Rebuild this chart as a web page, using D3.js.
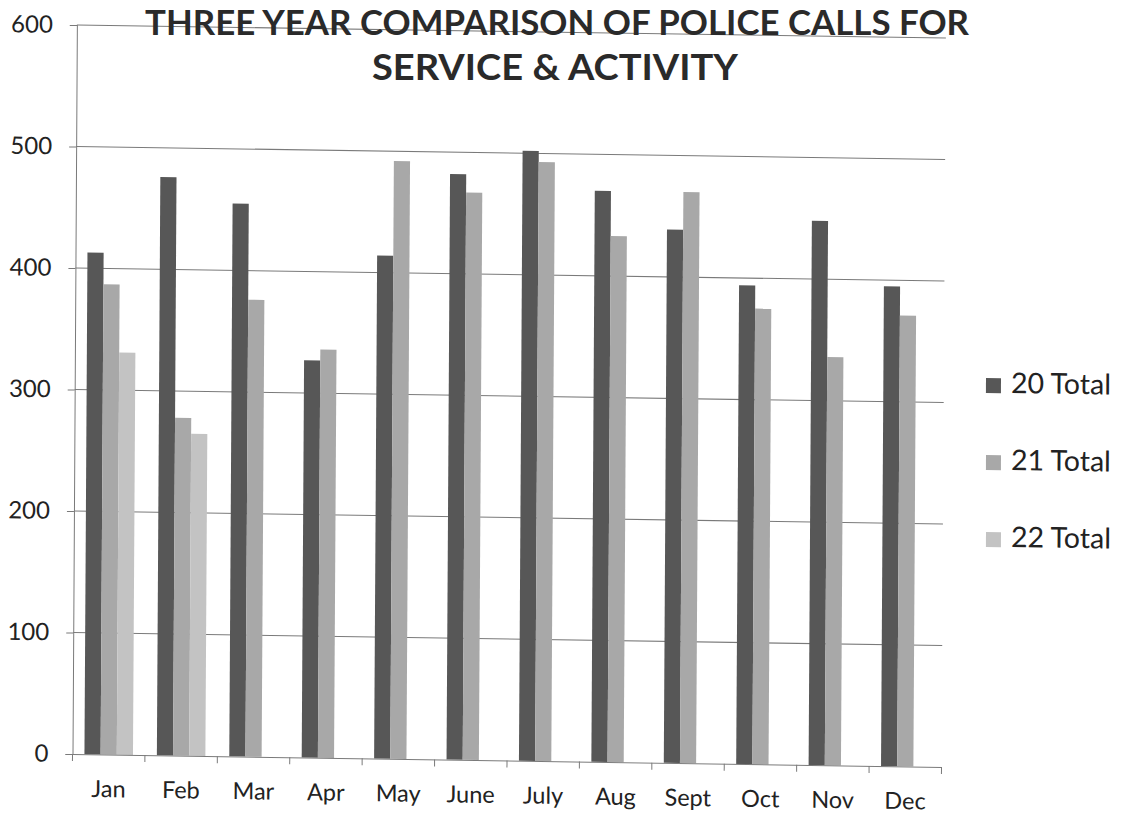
<!DOCTYPE html>
<html>
<head>
<meta charset="utf-8">
<script src="https://cdn.jsdelivr.net/npm/d3@7"></script>
<style>
  html, body { margin: 0; padding: 0; background: #fff; }
  svg { display: block; }
  text { font-family: Lato, "Open Sans", "Liberation Sans", sans-serif; }
</style>
</head>
<body>
<svg id="chart" width="1125" height="814"></svg>
<script>
// Monthly police calls for service & activity
const months  = ["Jan", "Feb", "Mar", "Apr", "May", "June", "July", "Aug", "Sept", "Oct", "Nov", "Dec"];
const series  = ["20 Total", "21 Total", "22 Total"];
const total20 = [413, 476, 455, 327, 414, 482, 502, 470, 439, 394, 448, 395];
const total21 = [387, 278, 376, 336, 492, 467, 493, 433, 470, 375, 336, 371];
const total22 = [331, 265, null, null, null, null, null, null, null, null, null, null];
const yTicks  = [0, 100, 200, 300, 400, 500, 600];
const titleLines = ["THREE YEAR COMPARISON OF POLICE CALLS FOR", "SERVICE & ACTIVITY"];

const colors = ["#575757", "#a8a8a8", "#c3c3c3"];

const svg = d3.select("#chart");
svg.append("rect").attr("width", 1125).attr("height", 814).attr("fill", "#fff");

// plot origin (bottom-left of the axes) and size
const ox = 72.5, oy = 754, W = 869, H = 729;
// the sheet sits slightly askew: rows drift down to the right, columns lean right
const kh = 0.0150, kv = -0.0060;
const det = 1 - kh * kv;
// convert a page position into the askew frame
function frame(X, Y) {
  const dx = X - ox, dy = Y - oy;
  return [ox + (dx - kv * dy) / det, oy + (dy - kh * dx) / det];
}

const root = svg.append("g")
  .attr("transform", `translate(${ox},${oy}) matrix(1,${kh},${kv},1,0,0) translate(${-ox},${-oy})`);
const g = root.append("g").attr("transform", `translate(${ox},${oy - H})`);

const y = d3.scaleLinear().domain([0, 600]).range([H, 0]);
const x0 = d3.scaleBand().domain(months).range([0, W]).paddingInner(0.33).paddingOuter(0.165);
const x1 = d3.scaleBand().domain(series).range([0, x0.bandwidth()]);

// gridlines
g.append("g").selectAll("line").data(yTicks.filter(v => v > 0)).join("line")
  .attr("x1", 0).attr("x2", W)
  .attr("y1", d => y(d)).attr("y2", d => y(d))
  .attr("stroke", "#7a7a7a").attr("stroke-width", 1.1);

// bars
const rows = months.map((m, i) => ({ month: m, vals: [total20[i], total21[i], total22[i]] }));
const grp = g.append("g").selectAll("g").data(rows).join("g")
  .attr("transform", d => `translate(${x0(d.month)},0)`);
grp.selectAll("rect")
  .data(d => d.vals.map((v, k) => ({ key: series[k], v, k })).filter(e => e.v != null))
  .join("rect")
  .attr("x", e => x1(e.key))
  .attr("width", x1.bandwidth())
  .attr("y", e => y(e.v))
  .attr("height", e => H - y(e.v))
  .attr("fill", e => colors[e.k]);

// y axis
const yAxis = g.append("g").call(
  d3.axisLeft(y).tickValues(yTicks).tickFormat(d3.format("d")).tickSize(7).tickPadding(17)
);
yAxis.select(".domain").attr("stroke", "#7a7a7a");
yAxis.selectAll(".tick line").attr("stroke", "#7a7a7a");
yAxis.selectAll("text").attr("font-size", 24).attr("fill", "#222");

// x axis
const xAxis = g.append("g").attr("transform", `translate(0,${H})`).call(
  d3.axisBottom(x0).tickSizeInner(0).tickSizeOuter(0).tickPadding(26)
);
xAxis.select(".domain").attr("stroke", "#7a7a7a");
xAxis.selectAll("text").attr("font-size", 23.5).attr("fill", "#222");
// category separators
const seps = d3.range(months.length + 1).map(i => i * x0.step());
xAxis.append("g").selectAll("line").data(seps).join("line")
  .attr("x1", d => d).attr("x2", d => d).attr("y1", 0).attr("y2", 7)
  .attr("stroke", "#7a7a7a");

// title (kept level so the top line stays on the page)
svg.append("text").attr("x", 557).attr("y", 35).attr("text-anchor", "middle")
  .attr("font-size", 34).attr("font-weight", 700).attr("fill", "#2a2a2a")
  .attr("textLength", 824).attr("lengthAdjust", "spacingAndGlyphs")
  .text(titleLines[0]);
svg.append("text").attr("x", 555).attr("y", 80).attr("text-anchor", "middle")
  .attr("font-size", 36).attr("font-weight", 700).attr("fill", "#2a2a2a")
  .attr("textLength", 366).attr("lengthAdjust", "spacingAndGlyphs")
  .text(titleLines[1]);

// legend
const legendRows = [393, 470, 547];
series.forEach((name, k) => {
  const sq = frame(986, legendRows[k] - 15);
  const tx = frame(1011, legendRows[k]);
  root.append("rect").attr("x", sq[0]).attr("y", sq[1]).attr("width", 15).attr("height", 15)
    .attr("fill", colors[k]);
  root.append("text").attr("x", tx[0]).attr("y", tx[1])
    .attr("font-size", 28.5).attr("fill", "#222").text(name);
});
</script>
</body>
</html>
